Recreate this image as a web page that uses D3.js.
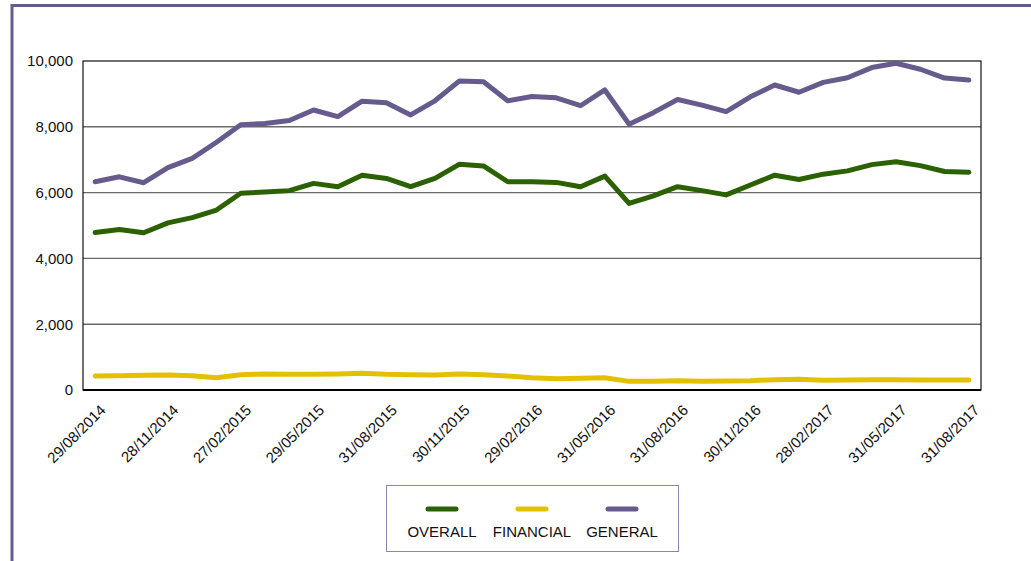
<!DOCTYPE html>
<html>
<head>
<meta charset="utf-8">
<script src="https://cdn.jsdelivr.net/npm/d3@7"></script>
<style>
  body { margin: 0; background: #fff; }
  text { font-family: "Liberation Sans", Arial, sans-serif; fill: #111; }
</style>
</head>
<body>
<div id="canvas"></div>
<script>
var w = 1031;
var h = 561;

// month-end dates, one per point
var dates = [
  "29/08/2014", "30/09/2014", "31/10/2014", "28/11/2014", "31/12/2014", "30/01/2015",
  "27/02/2015", "31/03/2015", "30/04/2015", "29/05/2015", "30/06/2015", "31/07/2015",
  "31/08/2015", "30/09/2015", "30/10/2015", "30/11/2015", "31/12/2015", "29/01/2016",
  "29/02/2016", "31/03/2016", "29/04/2016", "31/05/2016", "30/06/2016", "29/07/2016",
  "31/08/2016", "30/09/2016", "31/10/2016", "30/11/2016", "30/12/2016", "31/01/2017",
  "28/02/2017", "31/03/2017", "28/04/2017", "31/05/2017", "30/06/2017", "31/07/2017",
  "31/08/2017"
];

var overall = [
  4790, 4880, 4780, 5080, 5240, 5470, 5980, 6020, 6060, 6280, 6180, 6530,
  6430, 6180, 6430, 6860, 6810, 6330, 6330, 6310, 6180, 6500, 5670, 5900,
  6180, 6060, 5930, 6230, 6530, 6400, 6560, 6660, 6850, 6940, 6820, 6640,
  6620
];

var financial = [
  426, 436, 446, 456, 436, 375, 466, 486, 476, 476, 486, 506,
  476, 466, 456, 486, 466, 426, 375, 345, 355, 375, 263, 263,
  284, 263, 273, 284, 314, 324, 294, 304, 314, 314, 304, 304,
  304
];

var general = [
  6330, 6480, 6300, 6760, 7040, 7530, 8060, 8100, 8190, 8510, 8310, 8780,
  8730, 8360, 8790, 9390, 9370, 8790, 8920, 8880, 8640, 9120, 8080, 8430,
  8830, 8660, 8460, 8910, 9270, 9050, 9350, 9490, 9800, 9930, 9750, 9480,
  9420
];

var seriesNames = ["OVERALL", "FINANCIAL", "GENERAL"];
var seriesColors = ["#2b6100", "#e3c100", "#675b8e"];
var yTicks = [0, 2000, 4000, 6000, 8000, 10000];

var series = [overall, financial, general];

var plotL = 83, plotR = 981, plotT = 61, plotB = 390;

var xScale = d3.scalePoint()
               .domain(dates)
               .range([plotL, plotR])
               .padding(0.5);

var yScale = d3.scaleLinear()
               .domain([0, 10000])
               .range([plotB, plotT]);

var canvas = d3.select("#canvas")
               .append("svg")
               .attr("width", w)
               .attr("height", h);

// outer frame
canvas.append("path")
    .attr("d", `M 12 ${h + 5} L 12 5.5 L ${w + 5} 5.5`)
    .attr("fill", "none")
    .attr("stroke", "#675b8e")
    .attr("stroke-width", 3);

// gridlines
canvas.append("g")
    .selectAll("line")
    .data(yTicks.filter(d => d > 0 && d < 10000))
    .join("line")
    .attr("x1", plotL)
    .attr("x2", plotR)
    .attr("y1", d => yScale(d))
    .attr("y2", d => yScale(d))
    .attr("stroke", "#6a6a6a")
    .attr("stroke-width", 1.4);

// plot border
canvas.append("rect")
    .attr("x", plotL)
    .attr("y", plotT)
    .attr("width", plotR - plotL)
    .attr("height", plotB - plotT)
    .attr("fill", "none")
    .attr("stroke", "#111")
    .attr("stroke-width", 1.2);

canvas.append("line")
    .attr("x1", plotL)
    .attr("x2", plotR)
    .attr("y1", plotB)
    .attr("y2", plotB)
    .attr("stroke", "#000")
    .attr("stroke-width", 2.2);

// y axis labels
var yAxis = d3.axisLeft(yScale)
              .tickValues(yTicks)
              .tickSize(0)
              .tickPadding(10)
              .tickFormat(d3.format(","));

var yG = canvas.append("g")
    .attr("transform", `translate(${plotL}, 0)`)
    .call(yAxis);
yG.select(".domain").remove();
yG.selectAll("text")
    .style("font-size", "15px")
    .attr("fill", "#111");

// x axis labels (every third month)
var xAxis = d3.axisBottom(xScale)
              .tickValues(dates.filter((d, i) => i % 3 === 0))
              .tickSize(0);

var xG = canvas.append("g")
    .attr("transform", `translate(0, ${plotB})`)
    .call(xAxis);
xG.select(".domain").remove();
xG.selectAll("text")
    .style("font-size", "15px")
    .attr("fill", "#111")
    .attr("text-anchor", "end")
    .attr("dy", 0)
    .attr("y", 0)
    .attr("transform", "translate(11, 21) rotate(-45)");

// lines
var line = d3.line()
             .x((d, i) => xScale(dates[i]))
             .y(d => yScale(d));

canvas.append("g")
    .selectAll("path")
    .data(series)
    .join("path")
    .attr("d", d => line(d))
    .attr("fill", "none")
    .attr("stroke", (d, i) => seriesColors[i])
    .attr("stroke-width", 5)
    .attr("stroke-linejoin", "round")
    .attr("stroke-linecap", "round");

// legend
var legend = canvas.append("g")
                   .attr("class", "legend");

legend.append("rect")
    .attr("x", 386.5)
    .attr("y", 485.5)
    .attr("width", 292)
    .attr("height", 66)
    .attr("fill", "#fff")
    .attr("stroke", "#8d84ab")
    .attr("stroke-width", 1);

var legendX = [442, 532, 622];

var items = legend.selectAll("g")
    .data(seriesNames)
    .join("g")
    .attr("transform", (d, i) => `translate(${legendX[i]}, 0)`);

items.append("line")
    .attr("x1", -14)
    .attr("x2", 14)
    .attr("y1", 509)
    .attr("y2", 509)
    .attr("stroke", (d, i) => seriesColors[i])
    .attr("stroke-width", 5)
    .attr("stroke-linecap", "round");

items.append("text")
    .attr("x", 0)
    .attr("y", 537)
    .attr("text-anchor", "middle")
    .style("font-size", "15px")
    .text(d => d);
</script>
</body>
</html>
